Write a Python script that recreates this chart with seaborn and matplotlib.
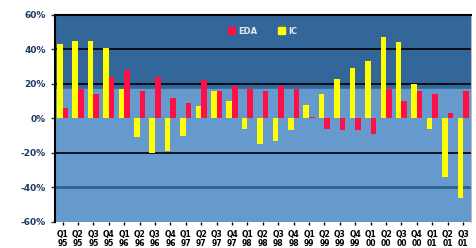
import matplotlib
matplotlib.use("Agg")
import matplotlib.pyplot as plt
import seaborn as sns
import pandas as pd
from matplotlib.patches import Patch
from matplotlib.ticker import FuncFormatter

quarters = ["Q1", "Q2", "Q3", "Q4"] * 6 + ["Q1", "Q2", "Q3"]
years = ["95"] * 4 + ["96"] * 4 + ["97"] * 4 + ["98"] * 4 + ["99"] * 4 + ["00"] * 4 + ["01"] * 3
categories = [f"{q}\n{y}" for q, y in zip(quarters, years)]

eda = [6, 17, 14, 24, 28, 16, 24, 12, 9, 22, 16, 19, 17, 16, 19, 17, 1, -6, -7, -7,
       -9, 17, 10, 16, 14, 3, 16]
ic = [43, 45, 45, 41, 17, -11, -20, -19, -10, 7, 16, 10, -6, -15, -13, -7, 8, 14, 23, 29,
      33, 47, 44, 20, -6, -34, -46]

df = pd.DataFrame({
    "cat": categories * 2,
    "series": ["IC"] * len(categories) + ["EDA"] * len(categories),
    "value": ic + eda,
})

colors = {"EDA": "#FF0F45", "IC": "#FFFF00"}

sns.set_theme(style="white")
plt.rcParams["font.family"] = ["DejaVu Sans"]

fig = plt.figure(figsize=(4.77, 2.48), dpi=100)
ax = fig.add_axes([0.115, 0.105, 0.872, 0.835])

ax.axhspan(17, 60, color="#336699", zorder=0)
ax.axhspan(-60, 17, color="#6699CC", zorder=0)
for yv in [40, 20, -20]:
    ax.axhline(yv, color="black", lw=1.2, zorder=1)
ax.axhline(-40, color="#2F5F8F", lw=2, zorder=1)

sns.barplot(data=df, x="cat", y="value", hue="series", hue_order=["IC", "EDA"],
            palette=colors, width=0.72, saturation=1, linewidth=0, ax=ax, zorder=2,
            legend=False)

ax.set_ylim(-60, 60)
ax.set_xlim(-0.5, len(categories) - 0.5)
ax.set_yticks(range(-60, 61, 20))
ax.yaxis.set_major_formatter(FuncFormatter(lambda v, p: f"{int(v)}%"))
ax.set_xlabel("")
ax.set_ylabel("")
ax.tick_params(axis="y", labelsize=6.5, colors="#1F3864", length=3, width=1, direction="out", left=True)
ax.tick_params(axis="x", labelsize=5.5, length=2, width=1, bottom=True, colors="black")
for lab in ax.get_yticklabels():
    lab.set_fontweight("bold")
for lab in ax.get_xticklabels():
    lab.set_fontweight("bold")
    lab.set_linespacing(1.0)

for s in ["left", "top"]:
    ax.spines[s].set_color("black")
    ax.spines[s].set_linewidth(1.5)
ax.spines["right"].set_color("#BBBBBB")
ax.spines["right"].set_linewidth(0.8)
ax.spines["bottom"].set_visible(False)

handles = [Patch(color=colors["EDA"], label="EDA"), Patch(color=colors["IC"], label="IC")]
leg = ax.legend(handles=handles, loc="upper center", bbox_to_anchor=(0.5, 0.98), ncol=2,
                frameon=False, fontsize=6, handlelength=0.8, handleheight=0.8,
                columnspacing=2.5, handletextpad=0.4)
for t in leg.get_texts():
    t.set_color("#E8E8F0")
    t.set_fontweight("bold")

fig.savefig("out.png", dpi=100)
